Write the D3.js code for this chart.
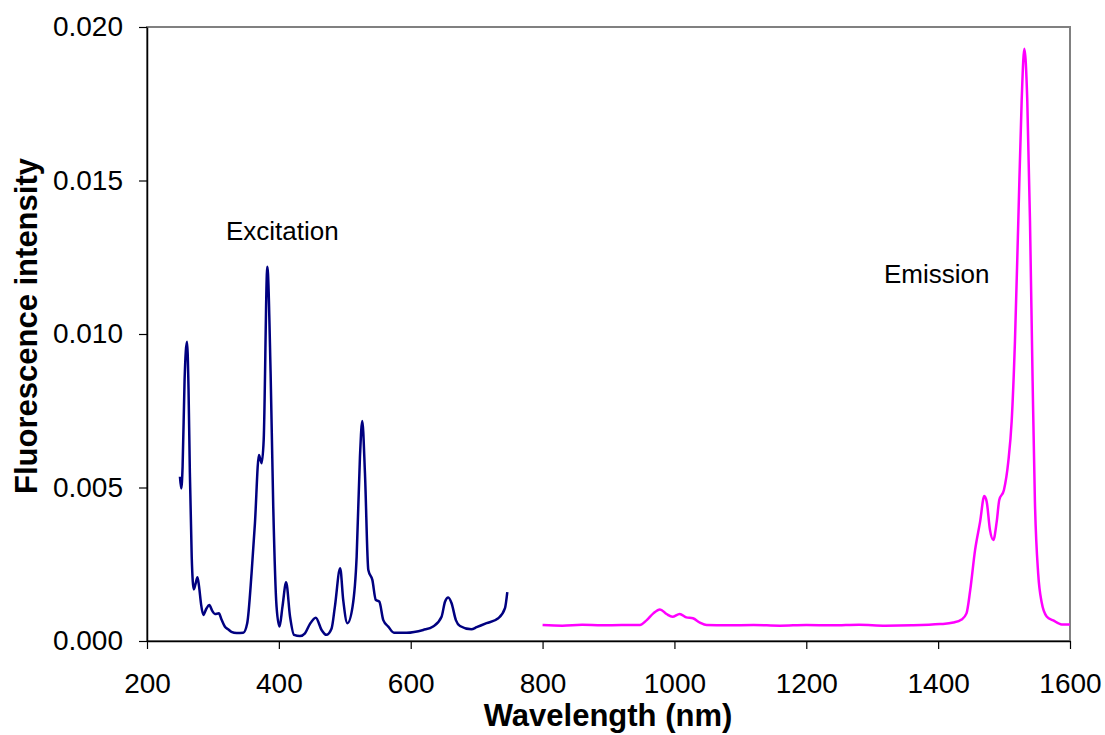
<!DOCTYPE html>
<html>
<head>
<meta charset="utf-8">
<script src="https://cdn.jsdelivr.net/npm/d3@7/dist/d3.min.js"></script>
<style>
  html, body { margin: 0; padding: 0; background: #fff; }
  svg { display: block; font-family: "Liberation Sans", Arial, sans-serif; }
</style>
</head>
<body>
<svg id="chart" width="1105" height="735"></svg>
<script>
// Excitation spectrum (nm, intensity)
const excitationWavelength = [250,252,254,257,260.7,263,265,267.8,271,273.5,276.6,279,282,285.4,290,294.5,299,303,309,313,318,323,328,336,346,352,358.6,363.7,369.8,373.8,377,382.5,387.5,391.5,396.5,401,405.5,411,417,423,432,439.6,447,456,464.8,472,480,485,493,497.6,504,511.8,518,523,526.5,530.6,535.7,541.8,547,552.4,558.4,566,574.6,593.7,619,634,646.8,652,657,662,668.5,674.7,692,700,715,732.8,743,746.5];
const excitationIntensity = [0.00535,0.00497,0.00568,0.0085,0.00975,0.0082,0.0055,0.00275,0.00168,0.00185,0.00208,0.00177,0.0012,0.00085,0.00105,0.00117,0.00098,0.00088,0.0009,0.0007,0.00047,0.00038,0.0003,0.00026,0.00027,0.00058,0.0022,0.00383,0.00606,0.00579,0.00655,0.01219,0.00872,0.00437,0.00112,0.00047,0.00112,0.00191,0.00079,0.0002,0.00016,0.00025,0.00055,0.00076,0.00036,0.0002,0.00041,0.00112,0.00237,0.00134,0.00058,0.00112,0.00275,0.006,0.00717,0.00546,0.00231,0.00199,0.00134,0.00128,0.00068,0.00047,0.00027,0.00027,0.00036,0.00047,0.00079,0.00128,0.00142,0.00123,0.00068,0.00049,0.00038,0.00045,0.00058,0.00074,0.00107,0.00159];

// Emission spectrum (nm, intensity)
const emissionWavelength = [800,830,860,890,920,947.7,958,968,978,988,997,1008,1018,1028,1038.7,1048.8,1080,1120,1160,1200,1240,1280,1320,1360,1403,1423,1435.6,1443,1448.6,1456,1463.6,1470,1473.7,1478.6,1483.7,1488.8,1492.7,1499.8,1506.4,1511.5,1516.5,1521.6,1526.7,1530.7,1535.2,1539.3,1543.3,1546.8,1551.8,1557,1564.6,1574.6,1587.4,1600];
const emissionIntensity = [0.00052,0.00050,0.00053,0.00051,0.00052,0.00052,0.00068,0.0009,0.00103,0.00088,0.00079,0.00088,0.00077,0.00074,0.0006,0.00052,0.00051,0.00052,0.00050,0.00052,0.00051,0.00053,0.00050,0.00051,0.00055,0.0006,0.0007,0.0009,0.00165,0.00296,0.00388,0.00472,0.00453,0.00362,0.00329,0.00388,0.00459,0.00492,0.00584,0.00715,0.00976,0.01369,0.01761,0.01929,0.01761,0.01369,0.00846,0.00453,0.00218,0.00126,0.0008,0.00067,0.00054,0.00054];

const xTicks = [200,400,600,800,1000,1200,1400,1600];
const yTicks = [0.000,0.005,0.010,0.015,0.020];

const svg = d3.select("#chart");
const m = {left: 147, right: 1070, top: 27, bottom: 641};

const x = d3.scaleLinear().domain([200,1600]).range([m.left, m.right]);
const y = d3.scaleLinear().domain([0,0.020]).range([m.bottom, m.top]);

// plot frame
svg.append("rect")
  .attr("x", m.left).attr("y", m.top)
  .attr("width", m.right - m.left).attr("height", m.bottom - m.top)
  .attr("fill", "none").attr("stroke", "#808080").attr("stroke-width", 2);

// axes
const xAxis = d3.axisBottom(x).tickValues(xTicks).tickSize(8).tickSizeOuter(0).tickPadding(24).tickFormat(d3.format("d"));
const gx = svg.append("g").attr("transform", `translate(0,${m.bottom})`).call(xAxis);
gx.selectAll("text").attr("font-size", 28).attr("fill", "#000").attr("font-family", "Liberation Sans, Arial, sans-serif");
gx.selectAll("line").attr("stroke", "#000").attr("stroke-width", 1.2);
gx.select(".domain").attr("stroke", "#000").attr("stroke-width", 1.5);

const yAxis = d3.axisLeft(y).tickValues(yTicks).tickSize(8).tickSizeOuter(0).tickPadding(16).tickFormat(d3.format(".3f"));
const gy = svg.append("g").attr("transform", `translate(${m.left},0)`).call(yAxis);
gy.selectAll("text").attr("font-size", 28).attr("fill", "#000").attr("font-family", "Liberation Sans, Arial, sans-serif");
gy.selectAll("line").attr("stroke", "#000").attr("stroke-width", 1.2);
gy.select(".domain").attr("stroke", "#000").attr("stroke-width", 1.5);

// axis titles
svg.append("text")
  .attr("x", 608).attr("y", 726)
  .attr("text-anchor", "middle").attr("font-size", 31).attr("font-weight", "bold")
  .text("Wavelength (nm)");
svg.append("text")
  .attr("transform", `translate(37,326) rotate(-90)`)
  .attr("text-anchor", "middle").attr("font-size", 31).attr("font-weight", "bold")
  .text("Fluorescence intensity");

// lines
const line = d3.line().x(d => x(d[0])).y(d => y(d[1])).curve(d3.curveMonotoneX);
const exData = excitationWavelength.map((w, i) => [w, excitationIntensity[i]]);
const emData = emissionWavelength.map((w, i) => [w, emissionIntensity[i]]);

svg.append("path").datum(exData).attr("d", line)
  .attr("fill", "none").attr("stroke", "#000080").attr("stroke-width", 2.5).attr("stroke-linejoin", "round");
svg.append("path").datum(emData).attr("d", line)
  .attr("fill", "none").attr("stroke", "#FF00FF").attr("stroke-width", 2.5).attr("stroke-linejoin", "round");

// labels
svg.append("text").attr("x", 226).attr("y", 240).attr("font-size", 26).text("Excitation");
svg.append("text").attr("x", 884).attr("y", 283).attr("font-size", 26).text("Emission");
</script>
</body>
</html>
